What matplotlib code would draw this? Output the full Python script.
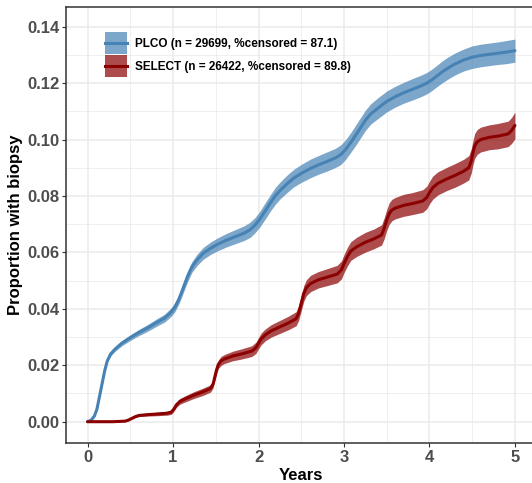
import numpy as np
import matplotlib
matplotlib.use("Agg")
import matplotlib.pyplot as plt
from matplotlib.patches import Patch
from matplotlib.lines import Line2D
from matplotlib.ticker import MultipleLocator
from matplotlib.legend_handler import HandlerLine2D

plt.rcParams['font.family'] = ['Liberation Sans', 'DejaVu Sans']

# ---- data ----
plco_t = [0, 0.04, 0.08, 0.11, 0.14, 0.17, 0.2, 0.23, 0.27, 0.32,
          0.4, 0.5, 0.6, 0.7, 0.8, 0.9, 0.97, 1.02, 1.07, 1.12,
          1.17, 1.22, 1.28, 1.35, 1.44, 1.53, 1.63, 1.73, 1.83, 1.9,
          1.96, 2.02, 2.08, 2.14, 2.2, 2.26, 2.33, 2.41, 2.5, 2.61,
          2.7, 2.8, 2.9, 2.96, 3.02, 3.08, 3.14, 3.19, 3.25, 3.31,
          3.4, 3.5, 3.6, 3.7, 3.8, 3.9, 3.97, 4.03, 4.09, 4.15,
          4.22, 4.3, 4.4, 4.5, 4.6, 4.7, 4.8, 4.9, 5.0]
plco_p = [0, 0.0005, 0.002, 0.0045, 0.009, 0.0135, 0.018, 0.0215, 0.0240, 0.0257,
          0.0278, 0.0298, 0.0316, 0.0332, 0.0350, 0.0367, 0.0386, 0.0405, 0.0435, 0.0475,
          0.0515, 0.0548, 0.0573, 0.0596, 0.0615, 0.0630, 0.0644, 0.0656, 0.0668, 0.0680,
          0.0697, 0.0720, 0.0748, 0.0776, 0.0802, 0.0822, 0.0842, 0.0863, 0.0880, 0.0898,
          0.0910, 0.0922, 0.0935, 0.0946, 0.0965, 0.0990, 0.1017, 0.1040, 0.1068, 0.1090,
          0.1112, 0.1135, 0.1152, 0.1166, 0.1178, 0.1190, 0.1200, 0.1212, 0.1226, 0.1240,
          0.1254, 0.1268, 0.1282, 0.1292, 0.1298, 0.1302, 0.1306, 0.1310, 0.1315]
plco_ci = [0, 0.0001, 0.0002, 0.0003, 0.0004, 0.0005, 0.0006, 0.0006, 0.0007, 0.0008,
           0.0009, 0.0010, 0.0011, 0.0012, 0.0013, 0.0014, 0.0015, 0.0016, 0.0017, 0.0018,
           0.0019, 0.0019, 0.0020, 0.0021, 0.0022, 0.0023, 0.0024, 0.0025, 0.0026, 0.0027,
           0.0027, 0.0028, 0.0029, 0.0029, 0.0030, 0.0030, 0.0031, 0.0031, 0.0032, 0.0033,
           0.0033, 0.0034, 0.0034, 0.0035, 0.0035, 0.0035, 0.0036, 0.0036, 0.0036, 0.0036,
           0.0037, 0.0037, 0.0037, 0.0037, 0.0038, 0.0038, 0.0038, 0.0038, 0.0038, 0.0039,
           0.0039, 0.0039, 0.0039, 0.0040, 0.0040, 0.0040, 0.0040, 0.0041, 0.0041]

select_t = [0, 0.3, 0.44, 0.48, 0.52, 0.56, 0.6, 0.7, 0.8, 0.93,
            0.98, 1.01, 1.04, 1.08, 1.15, 1.25, 1.35, 1.44, 1.47, 1.49,
            1.51, 1.53, 1.56, 1.6, 1.7, 1.8, 1.92, 1.97, 2.0, 2.03,
            2.08, 2.15, 2.25, 2.35, 2.44, 2.47, 2.5, 2.53, 2.56, 2.61,
            2.7, 2.8, 2.92, 2.97, 3.0, 3.04, 3.08, 3.15, 3.25, 3.35,
            3.44, 3.47, 3.5, 3.53, 3.56, 3.6, 3.7, 3.8, 3.92, 3.97,
            4.0, 4.04, 4.1, 4.2, 4.3, 4.4, 4.46, 4.49, 4.51, 4.53,
            4.56, 4.6, 4.7, 4.8, 4.92, 4.96, 5.0]
select_p = [0, 0.0, 0.0002, 0.0006, 0.0012, 0.0018, 0.0022, 0.0025, 0.0027, 0.0030,
            0.0034, 0.0045, 0.0060, 0.0072, 0.0082, 0.0095, 0.0106, 0.0118, 0.0135, 0.0160,
            0.0185, 0.0203, 0.0215, 0.0222, 0.0233, 0.0240, 0.0250, 0.0262, 0.0278, 0.0293,
            0.0308, 0.0322, 0.0336, 0.0350, 0.0365, 0.0385, 0.0420, 0.0455, 0.0475, 0.0490,
            0.0503, 0.0512, 0.0523, 0.0538, 0.0560, 0.0585, 0.0605, 0.0620, 0.0636, 0.0648,
            0.0662, 0.0685, 0.0715, 0.0738, 0.0750, 0.0757, 0.0767, 0.0773, 0.0782, 0.0795,
            0.0812, 0.0830, 0.0845, 0.0860, 0.0873, 0.0888, 0.0900, 0.0925, 0.0955, 0.0978,
            0.0992, 0.1000, 0.1008, 0.1012, 0.1020, 0.1032, 0.1050]
select_ci = [0, 0.0001, 0.0002, 0.0002, 0.0003, 0.0003, 0.0004, 0.0005, 0.0006, 0.0007,
             0.0008, 0.0008, 0.0009, 0.0010, 0.0011, 0.0012, 0.0013, 0.0013, 0.0014, 0.0014,
             0.0015, 0.0015, 0.0016, 0.0016, 0.0017, 0.0018, 0.0019, 0.0020, 0.0020, 0.0021,
             0.0021, 0.0022, 0.0023, 0.0024, 0.0025, 0.0026, 0.0027, 0.0028, 0.0028, 0.0029,
             0.0029, 0.0030, 0.0031, 0.0032, 0.0032, 0.0033, 0.0033, 0.0034, 0.0035, 0.0035,
             0.0036, 0.0037, 0.0037, 0.0038, 0.0038, 0.0038, 0.0039, 0.0039, 0.0040, 0.0040,
             0.0040, 0.0041, 0.0041, 0.0041, 0.0042, 0.0042, 0.0043, 0.0043, 0.0043, 0.0044,
             0.0044, 0.0044, 0.0044, 0.0045, 0.0045, 0.0046, 0.0047]

labels = ["PLCO (n = 29699, %censored = 87.1)", "SELECT (n = 26422, %censored = 89.8)"]
line_colors = ["#4682B4", "#8B0000"]

x_ticks = [0, 1, 2, 3, 4, 5]
y_ticks = [0.00, 0.02, 0.04, 0.06, 0.08, 0.10, 0.12, 0.14]
y_ticklabels = ["0.00", "0.02", "0.04", "0.06", "0.08", "0.10", "0.12", "0.14"]

# ---- figure ----
W, H = 532, 483
fig = plt.figure(figsize=(W / 100, H / 100), dpi=100)
left, right, top, bottom = 66.2, 536.3, 7, 443
ax = fig.add_axes([left / W, (H - bottom) / H, (right - left) / W, (bottom - top) / H])

series = [(plco_t, plco_p, plco_ci), (select_t, select_p, select_ci)]
for (t, p, ci), col in zip(series, line_colors):
    t = np.array(t); p = np.array(p); ci = np.array(ci)
    ax.fill_between(t, p - ci, p + ci, color=col, alpha=0.7, linewidth=0, zorder=3)
    ax.plot(t, p, color=col, lw=2.2, solid_joinstyle='round', solid_capstyle='round', zorder=4)

ax.set_xlim(-0.25, 5.25)
ax.set_ylim(-0.00755, 0.14698)
ax.set_xticks(x_ticks)
ax.set_xticklabels([str(v) for v in x_ticks])
ax.set_yticks(y_ticks)
ax.set_yticklabels(y_ticklabels)
ax.xaxis.set_minor_locator(MultipleLocator(0.5))
ax.yaxis.set_minor_locator(MultipleLocator(0.01))

ax.grid(which='major', color='#ebebeb', lw=1.1, zorder=0)
ax.grid(which='minor', color='#ebebeb', lw=0.55, zorder=0)
ax.set_axisbelow(True)
ax.tick_params(which='minor', length=0)
ax.tick_params(which='major', length=3, width=0.8, color='#333333', labelcolor='#4d4d4d',
               labelsize=12, pad=2)
for lab in ax.get_xticklabels() + ax.get_yticklabels():
    lab.set_fontweight('bold')
for s in ax.spines.values():
    s.set_color('#333333'); s.set_linewidth(1.1)

ax.set_xlabel("Years", fontsize=12, fontweight='bold', color='black', labelpad=2)
ax.set_ylabel("Proportion with biopsy", fontsize=12, fontweight='bold', color='black', labelpad=3)


class CenteredLine(HandlerLine2D):
    def create_artists(self, legend, orig_handle, xdescent, ydescent, width, height,
                       fontsize, trans):
        arts = super().create_artists(legend, orig_handle, xdescent, ydescent, width,
                                      height, fontsize, trans)
        for a in arts:
            if isinstance(a, Line2D):
                yd = np.asarray(a.get_ydata(), dtype=float)
                a.set_ydata(np.full_like(yd, height / 2 - ydescent))
        return arts


handles = []
for col in line_colors:
    handles.append((Patch(facecolor=col, alpha=0.7, edgecolor='none'),
                    Line2D([], [], color=col, lw=2.2)))
fs = 8.5
fpx = fs * 100 / 72
key_h = 22
hh = (key_h / fpx - 0.245) / 0.65
leg = ax.legend(handles, labels, loc='upper left',
                bbox_to_anchor=((105 - left) / (right - left), (bottom - 32) / (bottom - top)),
                frameon=False, prop={'size': fs, 'weight': 'bold'},
                handlelength=22 / fpx, handleheight=hh, handletextpad=8 / fpx,
                labelspacing=0.085, borderpad=0, borderaxespad=0,
                handler_map={Line2D: CenteredLine()})

fig.savefig("out.png", dpi=100)
